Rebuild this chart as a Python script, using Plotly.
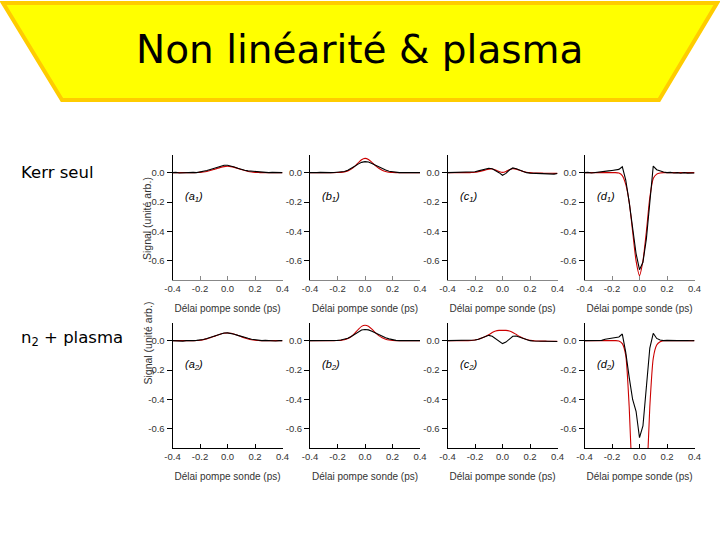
import plotly.graph_objects as go

# ---------------- data ----------------
delay_ps = [-0.4, -0.375, -0.35, -0.325, -0.3, -0.275, -0.25, -0.225, -0.2, -0.175,
            -0.15, -0.125, -0.1, -0.075, -0.05, -0.025, 0.0, 0.025, 0.05, 0.075,
            0.1, 0.125, 0.15, 0.175, 0.2, 0.225, 0.25, 0.275, 0.3, 0.325, 0.35, 0.375, 0.4]

# experiment (black) / simulation (red)
a1_exp = [0.0, 0.002, -0.002, 0.0, 0.002, 0.0, 0.002, 0.0, 0.004, 0.008, 0.014, 0.022, 0.030, 0.038, 0.046, 0.050, 0.050,
          0.046, 0.038, 0.030, 0.022, 0.016, 0.012, 0.010, 0.006, 0.006, 0.002, 0.004, 0.0, 0.002, 0.0, -0.002, 0.0]
a1_sim = [0, 0, 0, 0, 0, 0, 0, 0.001, 0.002, 0.004, 0.008, 0.014, 0.021, 0.029, 0.036, 0.041, 0.043,
          0.041, 0.036, 0.029, 0.021, 0.014, 0.008, 0.004, 0.002, 0.001, 0, 0, 0, 0, 0, 0, 0]
b1_exp = [0.0, -0.002, 0.0, 0.002, 0.0, -0.002, 0.0, 0.001, 0.002, 0.004, 0.008, 0.016, 0.028, 0.043, 0.058, 0.070, 0.075,
          0.072, 0.062, 0.050, 0.038, 0.027, 0.018, 0.010, 0.005, 0.002, 0.0, 0.001, -0.002, 0.0, 0.001, -0.001, 0.0]
b1_sim = [0, 0, 0, 0, 0, 0, 0, 0, 0.001, 0.002, 0.005, 0.012, 0.024, 0.043, 0.066, 0.088, 0.097,
          0.090, 0.070, 0.048, 0.030, 0.017, 0.008, 0.003, 0.001, 0, 0, 0, 0, 0, 0, 0, 0]
c1_exp = [0.0, 0.001, -0.001, 0.0, 0.002, 0.0, 0.001, 0.003, 0.006, 0.012, 0.018, 0.024, 0.030, 0.026, 0.015, 0.0, -0.018,
          -0.005, 0.018, 0.032, 0.026, 0.016, 0.006, 0.0, -0.003, -0.004, -0.005, -0.004, -0.006, -0.008, -0.005, -0.010, -0.006]
c1_sim = [0, 0, 0, 0, 0, 0, 0, 0.001, 0.003, 0.007, 0.012, 0.018, 0.024, 0.025, 0.018, 0.008, 0.002,
          0.008, 0.020, 0.027, 0.024, 0.016, 0.008, 0.003, 0.0, -0.002, -0.003, -0.003, -0.004, -0.004, -0.004, -0.005, -0.005]
d1_exp = [0.0, 0.002, -0.002, 0.0, 0.002, 0.004, 0.006, 0.012, 0.015, 0.018, 0.022, 0.040, -0.050, -0.200, -0.380, -0.550, -0.660,
          -0.610, -0.450, -0.220, 0.045, 0.020, 0.010, 0.004, 0.0, 0.002, -0.002, 0.0, -0.004, 0.0, -0.003, 0.0, -0.002]
d1_sim = [0, 0, 0, 0, 0, 0, 0, 0, 0, 0, -0.003, -0.02, -0.08, -0.2, -0.4, -0.6, -0.7,
          -0.6, -0.4, -0.17, -0.04, -0.01, -0.002, 0, 0, 0, 0, 0, 0, 0, 0, 0, 0]
a2_exp = [0.0, -0.002, 0.0, -0.003, 0.0, -0.002, 0.0, 0.002, 0.004, 0.008, 0.014, 0.022, 0.030, 0.040, 0.047, 0.052, 0.053,
          0.050, 0.044, 0.036, 0.028, 0.022, 0.016, 0.010, 0.006, 0.002, 0.0, 0.002, 0.0, 0.0, -0.002, 0.0, 0.0]
a2_sim = [0, 0, 0, 0, 0, 0, 0, 0.001, 0.003, 0.007, 0.012, 0.020, 0.028, 0.037, 0.045, 0.050, 0.052,
          0.050, 0.044, 0.036, 0.027, 0.018, 0.011, 0.006, 0.003, 0.001, 0, 0, 0, 0, 0, 0, 0]
b2_exp = [0.0, 0.0, -0.002, 0.0, 0.001, 0.0, -0.001, 0.0, 0.002, 0.004, 0.008, 0.016, 0.028, 0.044, 0.060, 0.072, 0.076,
          0.073, 0.064, 0.052, 0.040, 0.029, 0.020, 0.012, 0.006, 0.002, 0.0, 0.0, -0.001, 0.0, 0.0, 0.001, 0.0]
b2_sim = [0, 0, 0, 0, 0, 0, 0, 0, 0.001, 0.002, 0.006, 0.014, 0.028, 0.050, 0.075, 0.097, 0.105,
          0.098, 0.078, 0.054, 0.034, 0.020, 0.010, 0.004, 0.001, 0, 0, 0, 0, 0, 0, 0, 0]
c2_exp = [0.0, 0.001, -0.001, 0.0, 0.002, 0.0, 0.001, 0.002, 0.004, 0.010, 0.018, 0.028, 0.036, 0.030, 0.015, -0.004, -0.020,
          -0.010, 0.012, 0.030, 0.032, 0.024, 0.014, 0.006, 0.0, -0.002, -0.003, -0.002, -0.005, -0.006, -0.004, -0.010, -0.006]
c2_sim = [0, 0, 0, 0, 0, 0, 0, 0.001, 0.004, 0.010, 0.018, 0.028, 0.040, 0.055, 0.066, 0.070, 0.070,
          0.070, 0.066, 0.056, 0.042, 0.028, 0.016, 0.008, 0.002, 0.0, -0.002, -0.003, -0.003, -0.004, -0.004, -0.005, -0.005]
d2_exp = [0.0, 0.0, 0.002, 0.0, 0.004, 0.002, 0.010, 0.015, 0.018, 0.020, 0.025, 0.045, -0.080, -0.250, -0.400, -0.480, -0.660,
          -0.580, -0.300, -0.050, 0.050, 0.015, 0.004, 0.0, 0.002, 0.0, -0.002, 0.0, 0.001, -0.002, 0.0, -0.001, 0.0]
d2_sim = [0, 0, 0, 0, 0, 0, 0, 0, 0, 0, -0.002, -0.02, -0.1, -0.45, -1.0, -1.3, -1.4,
          -1.3, -1.0, -0.45, -0.12, -0.03, -0.008, 0, 0, 0, 0, 0, 0, 0, 0, 0, 0]

panel_names = ["a", "b", "c", "d", "a", "b", "c", "d"]
panel_index = ["1", "1", "1", "1", "2", "2", "2", "2"]
experiments = [a1_exp, b1_exp, c1_exp, d1_exp, a2_exp, b2_exp, c2_exp, d2_exp]
simulations = [a1_sim, b1_sim, c1_sim, d1_sim, a2_sim, b2_sim, c2_sim, d2_sim]

x_tickvals = [-0.4, -0.2, 0.0, 0.2, 0.4]
x_ticktext = ["-0.4", "-0.2", "0.0", "0.2", "0.4"]
y_tickvals = [0.0, -0.2, -0.4, -0.6]
y_ticktext = ["0.0", "-0.2", "-0.4", "-0.6"]
row_labels = ["Kerr seul", "n<sub>2</sub> + plasma"]
title_text = "Non linéarité & plasma"
x_title = "Délai pompe sonde (ps)"
y_title = "Signal (unité arb.)"

# ---------------- layout helpers ----------------
W, H = 720, 540
def px(x):
    return x / W
def py(y):
    return 1 - y / H

col_left = [172.5, 310.0, 447.5, 584.5]
col_w = 110.0
row_top = [155.0, 323.0]
row_h = 125.0

BLACK = "#000000"
RED = "#cc0000"
tick_font = dict(family="Liberation Sans, Arial, sans-serif", size=9.5, color="#333333")
title_font = dict(family="Liberation Sans, Arial, sans-serif", size=10, color="#333333")

fig = go.Figure()
layout = dict(
    width=W, height=H,
    autosize=False,
    margin=dict(l=0, r=0, t=0, b=0, pad=0),
    paper_bgcolor="white", plot_bgcolor="white",
    showlegend=False,
    annotations=[], shapes=[],
)

for i in range(8):
    r, c = divmod(i, 4)
    n = i + 1
    xa = "x" if n == 1 else f"x{n}"
    ya = "y" if n == 1 else f"y{n}"
    fig.add_trace(go.Scatter(x=delay_ps, y=simulations[i], mode="lines",
                             line=dict(color=RED, width=1.1, shape="spline", smoothing=0.6),
                             xaxis=xa, yaxis=ya, hoverinfo="skip"))
    fig.add_trace(go.Scatter(x=delay_ps, y=experiments[i], mode="lines",
                             line=dict(color=BLACK, width=1.1),
                             xaxis=xa, yaxis=ya, hoverinfo="skip"))
    xline = "#888888" if r == 0 else "#000000"
    layout["xaxis" if n == 1 else f"xaxis{n}"] = dict(
        domain=[px(col_left[c]), px(col_left[c] + col_w)],
        anchor=ya, range=[-0.4, 0.4], automargin=False,
        showgrid=False, zeroline=False, showline=True, linecolor=xline, linewidth=1,
        ticks="inside", ticklen=4, tickcolor=xline, tickwidth=1,
        tickvals=x_tickvals, ticktext=x_ticktext, tickfont=tick_font,
        title=dict(text=x_title, font=title_font, standoff=11),
    )
    layout["yaxis" if n == 1 else f"yaxis{n}"] = dict(
        domain=[py(row_top[r] + row_h), py(row_top[r])],
        anchor=xa, range=[-0.73, 0.12], automargin=False,
        showgrid=False, zeroline=False, showline=True, linecolor="#000000", linewidth=1,
        ticks="outside", ticklen=5, tickcolor="#000000", tickwidth=1,
        tickvals=y_tickvals, ticktext=y_ticktext, tickfont=tick_font,
    )
    layout["annotations"].append(dict(
        xref=xa, yref=ya, x=-0.245, y=-0.165, showarrow=False,
        text=f"<i>({panel_names[i]}<sub>{panel_index[i]}</sub>)</i>",
        font=dict(family="Liberation Sans, Arial, sans-serif", size=11, color="#000000"),
    ))

# y axis titles (first column)
for r in range(2):
    layout["annotations"].append(dict(
        xref="paper", yref="paper", x=px(139), y=py(row_top[r] + 64),
        text=y_title, textangle=-90, showarrow=False,
        font=dict(family="Liberation Sans, Arial, sans-serif", size=10.5, color="#333333"),
    ))

# row labels
for r, yy in enumerate([172, 338]):
    layout["annotations"].append(dict(
        xref="paper", yref="paper", x=px(19), y=py(yy), xanchor="left", yanchor="middle",
        text=row_labels[r], showarrow=False,
        font=dict(family="DejaVu Sans", size=16.5, color="#000000"),
    ))

# title banner
layout["shapes"].append(dict(
    type="path", xref="paper", yref="paper",
    path=f"M {px(3)},{py(3)} L {px(717)},{py(3)} L {px(659)},{py(100)} L {px(62)},{py(100)} Z",
    fillcolor="#FFFF00", line=dict(color="#FFCC00", width=4), layer="below",
))
layout["annotations"].append(dict(
    xref="paper", yref="paper", x=px(360), y=py(50), xanchor="center", yanchor="middle",
    text=title_text, showarrow=False,
    font=dict(family="DejaVu Sans", size=39, color="#000000"),
))

fig.update_layout(**layout)
fig.write_html(
    "out.html",
    config={"responsive": False, "displayModeBar": False},
    post_script="document.body.style.margin='0px';document.body.style.overflow='hidden';",
)
